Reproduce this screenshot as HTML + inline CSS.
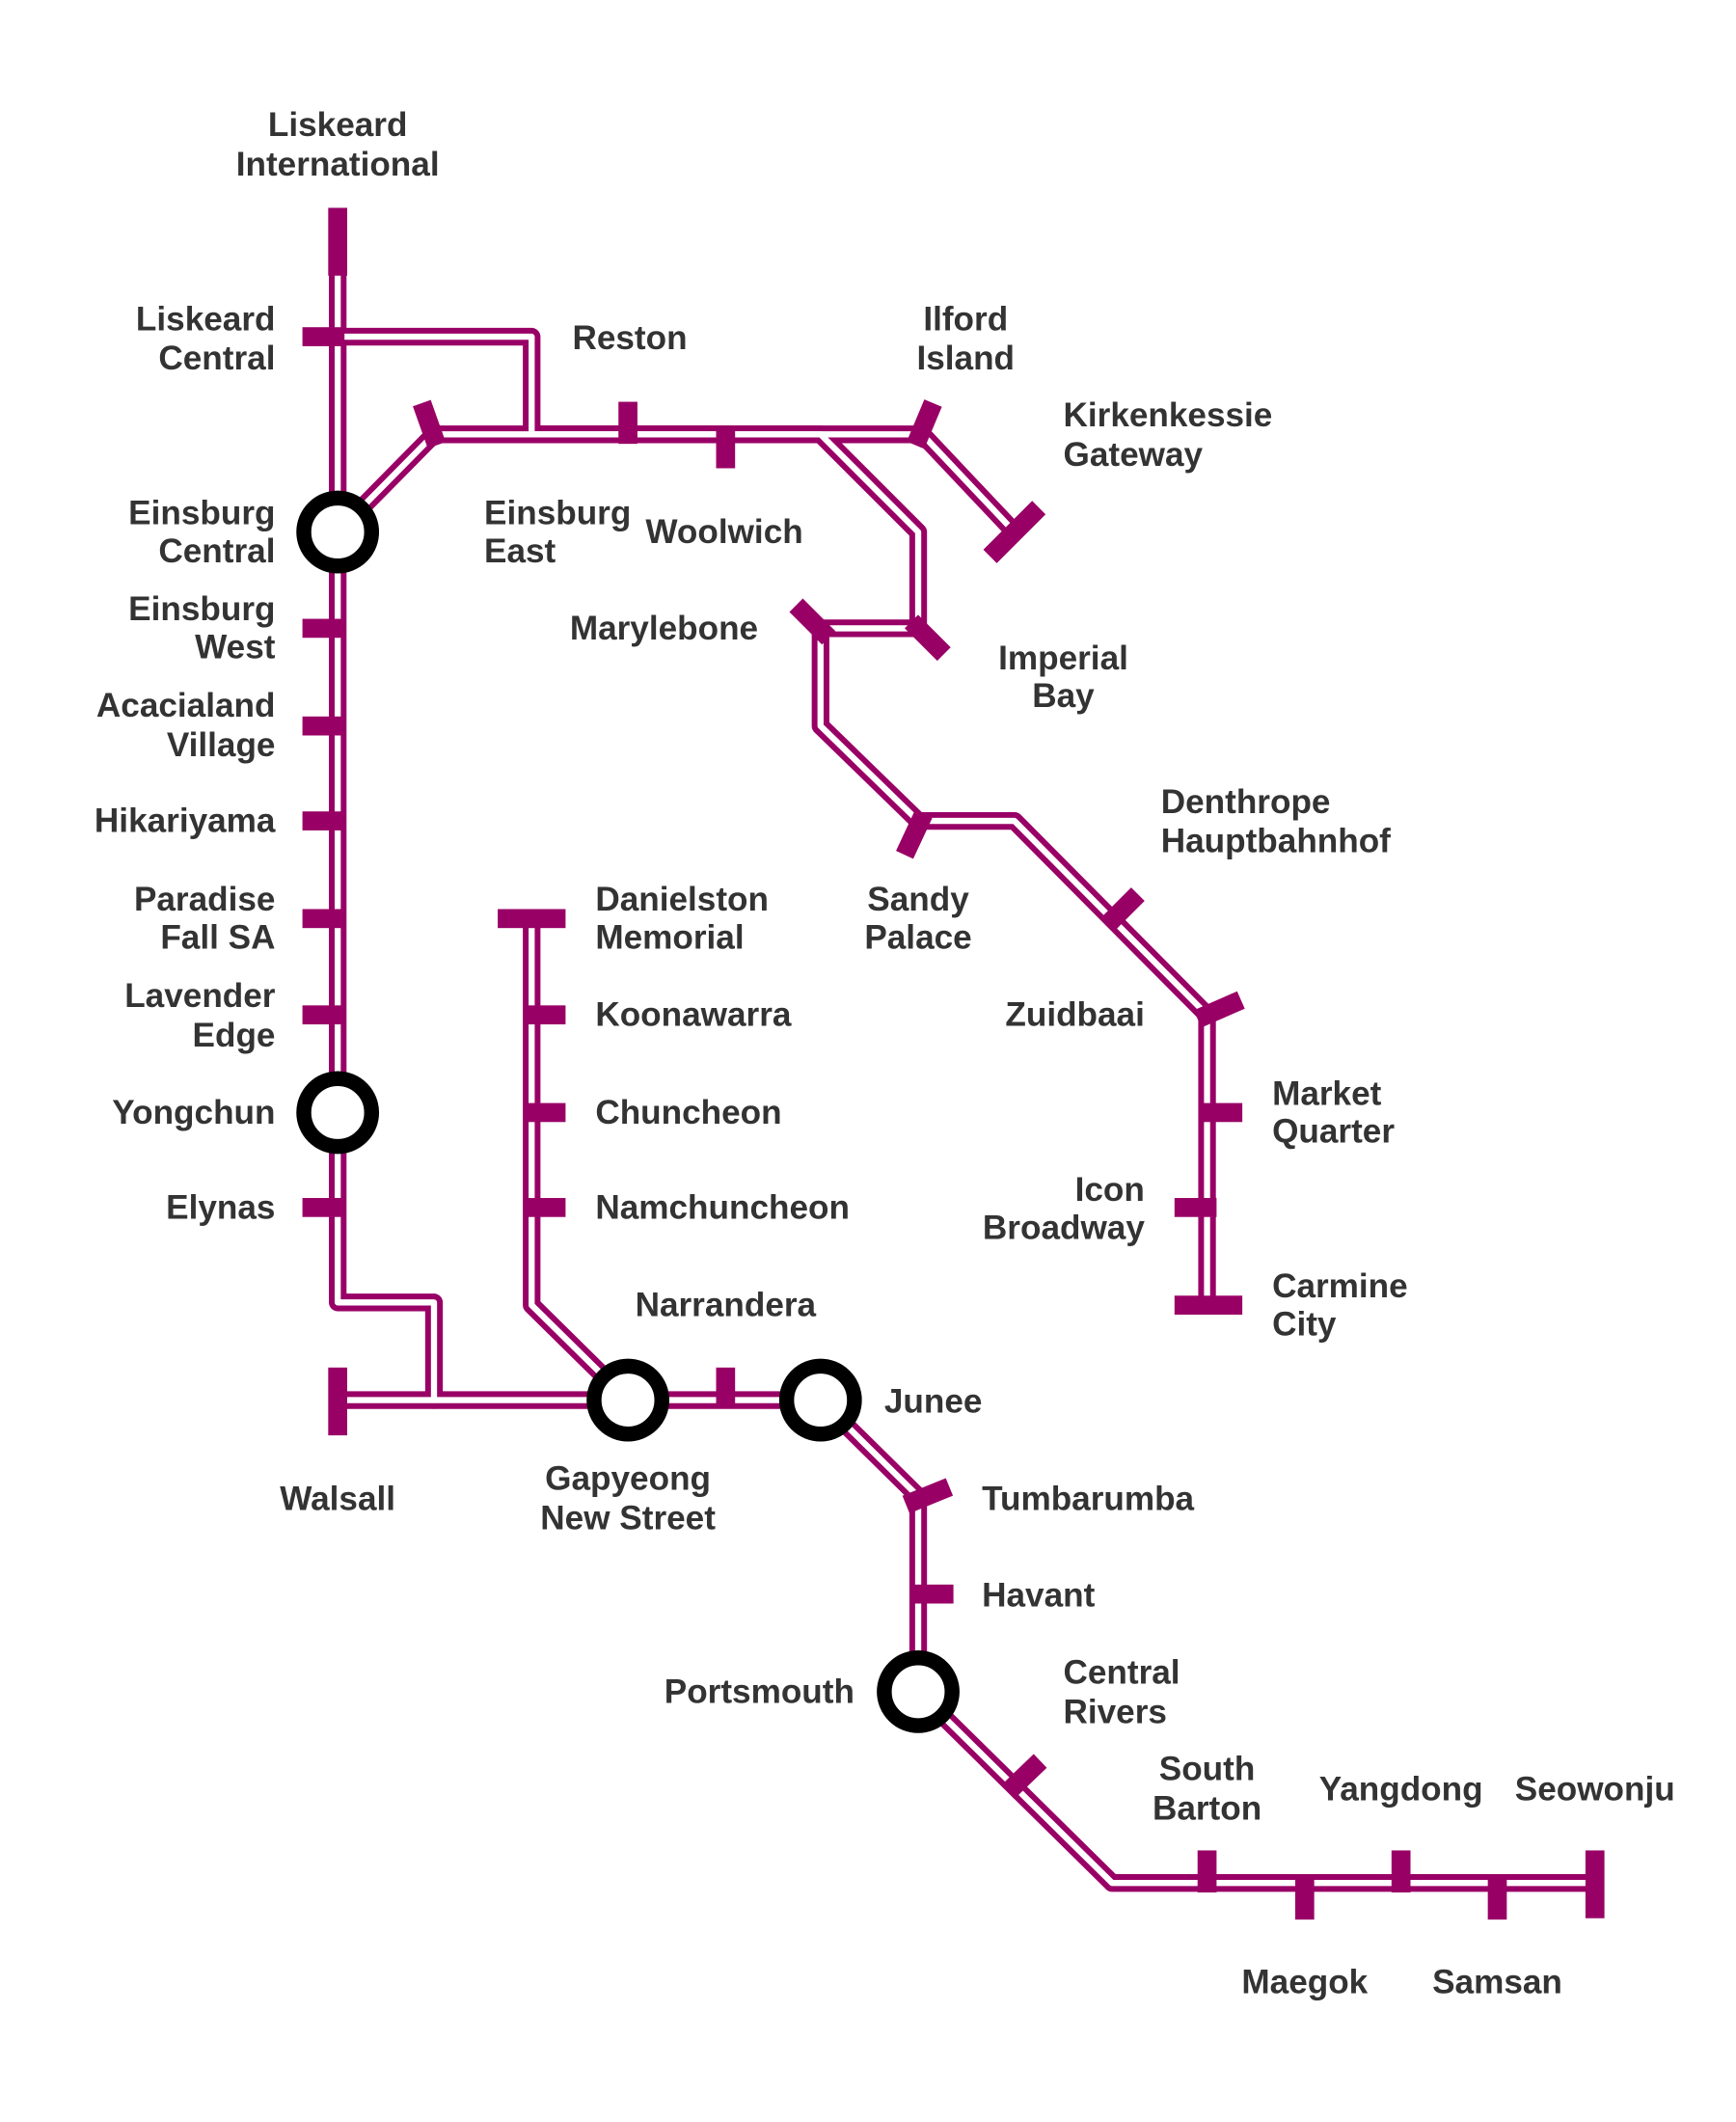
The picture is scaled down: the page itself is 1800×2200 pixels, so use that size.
<!DOCTYPE html>
<html><head><meta charset="utf-8"><style>
html,body{margin:0;padding:0;background:#fff;}
svg{display:block;}
text{font-family:"Liberation Sans",sans-serif;font-weight:bold;font-size:25px;fill:#333;dominant-baseline:central;}
.l{fill:none;stroke-linejoin:round;}
.p{stroke:#990066;stroke-width:13;}
.w{stroke:#fff;stroke-width:4.5;}
.t{stroke:#990066;stroke-width:14;}
</style></head><body>
<svg width="1800" height="2200" viewBox="0 0 1280 1564" xmlns="http://www.w3.org/2000/svg">
<defs>
<g id="lines">
<path d="M249,155 V960 H320 V1032 H463 H605 L677,1103 V1247 L820,1388 H1176"/>
<path d="M249,1032 H320"/>
<path d="M249,248 H392 V320 H680 L748,392"/>
<path d="M249,392 L320,320 H605 L677,392 V463"/>
<path d="M677,463 H605 V535 L677,605 H748 L890,748 V962"/>
<path d="M392,677 V962 L463,1032"/>
</g>
</defs>
<use href="#lines" class="l p"/>
<use href="#lines" class="l w"/>
<g fill="#990066">
<rect x="242" y="153" width="14" height="50"/>
<rect x="242" y="1008" width="14" height="50"/>
<rect x="1169" y="1364" width="14" height="50"/>
<rect x="866" y="955" width="50" height="14"/>
<rect x="367" y="670" width="50" height="14"/>
<rect x="223" y="241" width="31" height="14"/>
<rect x="223" y="456" width="31" height="14"/>
<rect x="223" y="528" width="31" height="14"/>
<rect x="223" y="598" width="31" height="14"/>
<rect x="223" y="670" width="31" height="14"/>
<rect x="223" y="741" width="31" height="14"/>
<rect x="223" y="883" width="31" height="14"/>
<rect x="456" y="296" width="14" height="31"/>
<rect x="528" y="314" width="14" height="31"/>
<rect x="386" y="741" width="31" height="14"/>
<rect x="386" y="813" width="31" height="14"/>
<rect x="386" y="883" width="31" height="14"/>
<rect x="528" y="1008" width="14" height="30"/>
<rect x="671" y="1168" width="32" height="14"/>
<rect x="883" y="1364" width="14" height="31"/>
<rect x="955" y="1384" width="14" height="31"/>
<rect x="1026" y="1364" width="14" height="31"/>
<rect x="1097" y="1384" width="14" height="31"/>
<rect x="885" y="813" width="31" height="14"/>
<rect x="866" y="883" width="31" height="14"/>
</g>
<g class="t">
<line x1="675" y1="328" x2="688" y2="297"/>
<line x1="311" y1="297" x2="322" y2="328"/>
<line x1="668" y1="1109" x2="700" y2="1096"/>
<line x1="883" y1="751" x2="915" y2="737"/>
<line x1="667" y1="630" x2="681" y2="600"/>
<line x1="587" y1="446" x2="611" y2="470"/>
<line x1="672" y1="458" x2="696" y2="482"/>
<line x1="816" y1="682" x2="839" y2="659"/>
<line x1="743" y1="1321" x2="767" y2="1298"/>
<line x1="730" y1="410" x2="766" y2="374"/>
</g>
<g fill="#fff" stroke="#000" stroke-width="11">
<circle cx="249" cy="392" r="25"/>
<circle cx="249" cy="820" r="25"/>
<circle cx="463" cy="1032" r="25"/>
<circle cx="605" cy="1032" r="25"/>
<circle cx="677" cy="1247" r="25"/>
</g>
<g text-anchor="end">
<text x="203" y="235">Liskeard</text><text x="203" y="264">Central</text>
<text x="203" y="378">Einsburg</text><text x="203" y="406">Central</text>
<text x="203" y="449">Einsburg</text><text x="203" y="477">West</text>
<text x="203" y="520">Acacialand</text><text x="203" y="549">Village</text>
<text x="203" y="605">Hikariyama</text>
<text x="203" y="663">Paradise</text><text x="203" y="691">Fall SA</text>
<text x="203" y="734">Lavender</text><text x="203" y="763">Edge</text>
<text x="203" y="820">Yongchun</text>
<text x="203" y="890">Elynas</text>
<text x="559" y="463">Marylebone</text>
<text x="844" y="748">Zuidbaai</text>
<text x="844" y="877">Icon</text><text x="844" y="905">Broadway</text>
<text x="630" y="1247">Portsmouth</text>
</g>
<g text-anchor="start">
<text x="422" y="249">Reston</text>
<text x="784" y="306">Kirkenkessie</text><text x="784" y="335">Gateway</text>
<text x="357" y="378">Einsburg</text><text x="357" y="406">East</text>
<text x="476" y="392">Woolwich</text>
<text x="856" y="591">Denthrope</text><text x="856" y="620">Hauptbahnhof</text>
<text x="439" y="663">Danielston</text><text x="439" y="691">Memorial</text>
<text x="439" y="748">Koonawarra</text>
<text x="439" y="820">Chuncheon</text>
<text x="439" y="890">Namchuncheon</text>
<text x="938" y="806">Market</text><text x="938" y="834">Quarter</text>
<text x="938" y="948">Carmine</text><text x="938" y="976">City</text>
<text x="652" y="1033">Junee</text>
<text x="724" y="1105">Tumbarumba</text>
<text x="724" y="1176">Havant</text>
<text x="784" y="1233">Central</text><text x="784" y="1262">Rivers</text>
</g>
<g text-anchor="middle">
<text x="249" y="92">Liskeard</text><text x="249" y="121">International</text>
<text x="712" y="235">Ilford</text><text x="712" y="264">Island</text>
<text x="784" y="485">Imperial</text><text x="784" y="513">Bay</text>
<text x="677" y="663">Sandy</text><text x="677" y="691">Palace</text>
<text x="535" y="962">Narrandera</text>
<text x="249" y="1105">Walsall</text>
<text x="463" y="1090">Gapyeong</text><text x="463" y="1119">New Street</text>
<text x="890" y="1304">South</text><text x="890" y="1333">Barton</text>
<text x="1033" y="1319">Yangdong</text>
<text x="1176" y="1319">Seowonju</text>
<text x="962" y="1461">Maegok</text>
<text x="1104" y="1461">Samsan</text>
</g>
</svg>
</body></html>
